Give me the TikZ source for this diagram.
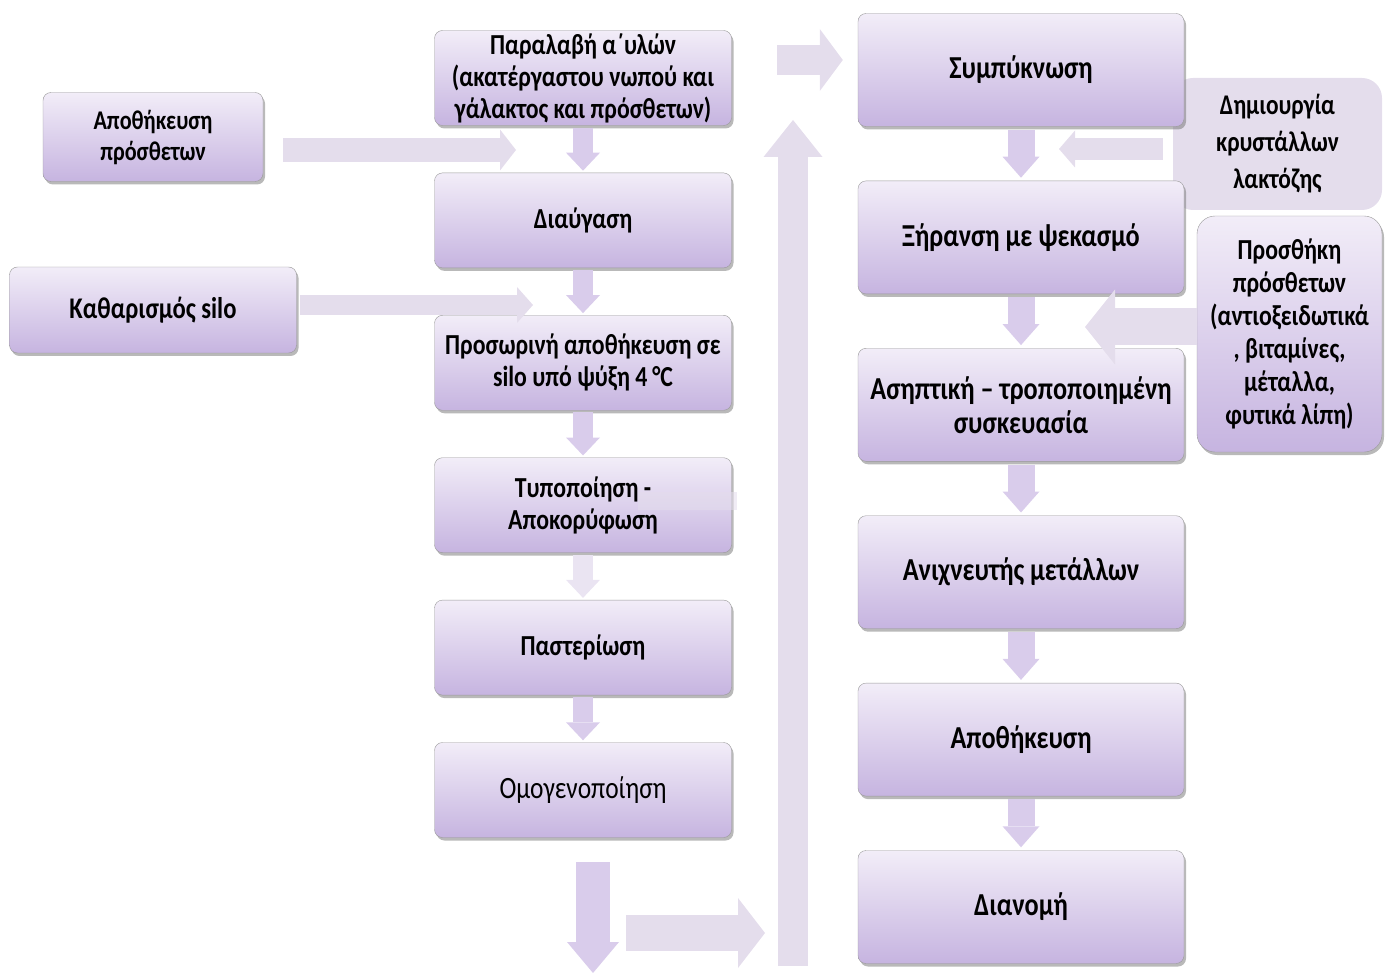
\documentclass[tikz,border=0pt]{standalone}
\usepackage{fontspec}
\setmainfont{Carlito}[FakeStretch=0.82]
\usepackage{tikz}
\usetikzlibrary{%
   arrows.meta,%
   calc,%
   positioning,%
   shadows}
\definecolor{boxtop}{HTML}{F2EDF8}
\definecolor{boxbot}{HTML}{C6B4E0}
\definecolor{pale}{HTML}{E4DDEC}
\definecolor{darr}{HTML}{D9CCEB}
\definecolor{darrlt}{HTML}{EAE4F2}

\begin{document}
\begin{tikzpicture}
[x=1pt, y=-1pt,
 box/.style={draw=black!40, rounded corners=8pt, top color=boxtop, bottom color=boxbot, align=center, inner sep=2pt,
   drop shadow={shadow xshift=2pt, shadow yshift=-3pt, fill=black!55, opacity=.5}},
 midbox/.style={box, minimum width=297pt, minimum height=95pt, font=\fontsize{29}{32}\selectfont\bfseries},
 rgtbox/.style={box, minimum width=326pt, minimum height=113pt, font=\fontsize{32}{34}\selectfont\bfseries},
 lftbox/.style={box, font=\fontsize{27}{31}\selectfont\bfseries},
 sidebox/.style={box, rounded corners=18pt, font=\fontsize{29}{33}\selectfont\bfseries},
 dnarr/.style={line width=20pt, darr, -{Triangle[length=18pt, width=34pt, line width=0pt]}, shorten <=2pt, shorten >=2pt},
 rdnarr/.style={line width=27pt, darr, -{Triangle[length=21pt, width=37pt, line width=0pt]}, shorten <=3pt, shorten >=3pt},
 blkarr/.style={pale}]
\useasboundingbox (0,0) rectangle (1387,973);
\node (krystal) [draw=none, fill=pale, rounded corners=20pt, align=center, minimum width=209pt, minimum height=132pt,
   font=\fontsize{28.5}{37}\selectfont\bfseries] at (1277.5,144) {Δημιουργία\\ κρυστάλλων\\ λακτόζης};
\node (paralav) [midbox] at (583,78) {Παραλαβή α΄υλών\\ (ακατέργαστου νωπού και\\ γάλακτος και πρόσθετων)};
\node (diaugas) [midbox, below=47pt of paralav] {Διαύγαση};
\node (prosapo) [midbox, below=47pt of diaugas] {Προσωρινή αποθήκευση σε\\ silo υπό ψύξη 4\,°C};
\node (typopoi) [midbox, below=47pt of prosapo] {Τυποποίηση -\\ Αποκορύφωση};
\node (pasteri) [midbox, below=47pt of typopoi] {Παστερίωση};
\node (omogeno) [midbox, below=47pt of pasteri, font=\fontsize{31}{32}\selectfont] {Ομογενοποίηση};
\node (sympykn) [rgtbox] at (1021,70) {Συμπύκνωση};
\node (xiransi) [rgtbox, below=54pt of sympykn] {Ξήρανση με ψεκασμό};
\node (asiptik) [rgtbox, below=54pt of xiransi] {Ασηπτική – τροποποιημένη\\ συσκευασία};
\node (anixneu) [rgtbox, below=54pt of asiptik] {Ανιχνευτής μετάλλων};
\node (apothik) [rgtbox, below=54pt of anixneu] {Αποθήκευση};
\node (dianomi) [rgtbox, below=54pt of apothik] {Διανομή};
\node (apothpr) [lftbox, minimum width=220pt, minimum height=89pt] at (153,137) {Αποθήκευση\\ πρόσθετων};
\node (katharo) [lftbox, minimum width=287pt, minimum height=86pt, font=\fontsize{30}{31}\selectfont\bfseries] at (153,310) {Καθαρισμός silo};
\node (prosthi) [sidebox, minimum width=185pt, minimum height=236pt] at (1289.5,334) {Προσθήκη\\ πρόσθετων\\ (αντιοξειδωτικά\\ , βιταμίνες,\\ μέταλλα,\\ φυτικά λίπη)};
\fill[pale, fill opacity=.55] (638,492) rectangle (737,510);
%
\coordinate (addin) at (516,150);
\coordinate (silin) at (533,305);
\coordinate (topin) at (777,60);
\coordinate (risebot) at (793,966);
\coordinate (risetop) at (793,120);
\coordinate (botlft) at (626,933);
\coordinate (botrgt) at (765,933);
\coordinate (dnstart) at (593,862);
\coordinate (dnend) at (593,973);
\coordinate (lactout) at (1059,149);
\coordinate (prosout) at (1085,327);
\draw[dnarr] (paralav) -- (diaugas);
\draw[dnarr] (diaugas) -- (prosapo);
\draw[dnarr] (prosapo) -- (typopoi);
\draw[dnarr, darrlt] (typopoi) -- (pasteri);
\draw[dnarr] (pasteri) -- (omogeno);
\draw[rdnarr] (sympykn) -- (xiransi);
\draw[rdnarr] (xiransi) -- (asiptik);
\draw[rdnarr] (asiptik) -- (anixneu);
\draw[rdnarr] (anixneu) -- (apothik);
\draw[rdnarr] (apothik) -- (dianomi);
\draw[blkarr, line width=24pt, -{Triangle[length=16pt, width=41pt, line width=0pt]}, shorten <=20pt] (apothpr.east |- addin) -- (addin);
\draw[blkarr, line width=20pt, -{Triangle[length=16pt, width=36pt, line width=0pt]}, shorten <=3pt] (katharo.east |- silin) -- (silin);
\draw[blkarr, line width=30pt, -{Triangle[length=23pt, width=62pt, line width=0pt]}, shorten >=15pt] (topin) -- (sympykn.west |- topin);
\draw[blkarr, line width=30pt, -{Triangle[length=37pt, width=59pt, line width=0pt]}] (risebot) -- (risetop);
\draw[blkarr, line width=36pt, -{Triangle[length=27pt, width=70pt, line width=0pt]}] (botlft) -- (botrgt);
\draw[darr, line width=34pt, -{Triangle[length=31pt, width=52pt, line width=0pt]}] (dnstart) -- (dnend);
\draw[blkarr, line width=22pt, -{Triangle[length=16pt, width=37pt, line width=0pt]}, shorten <=10pt] (krystal.west |- lactout) -- (lactout);
\draw[blkarr, line width=37pt, -{Triangle[length=30pt, width=75pt, line width=0pt]}] (prosthi.west |- prosout) -- (prosout);
\end{tikzpicture}
\end{document}
